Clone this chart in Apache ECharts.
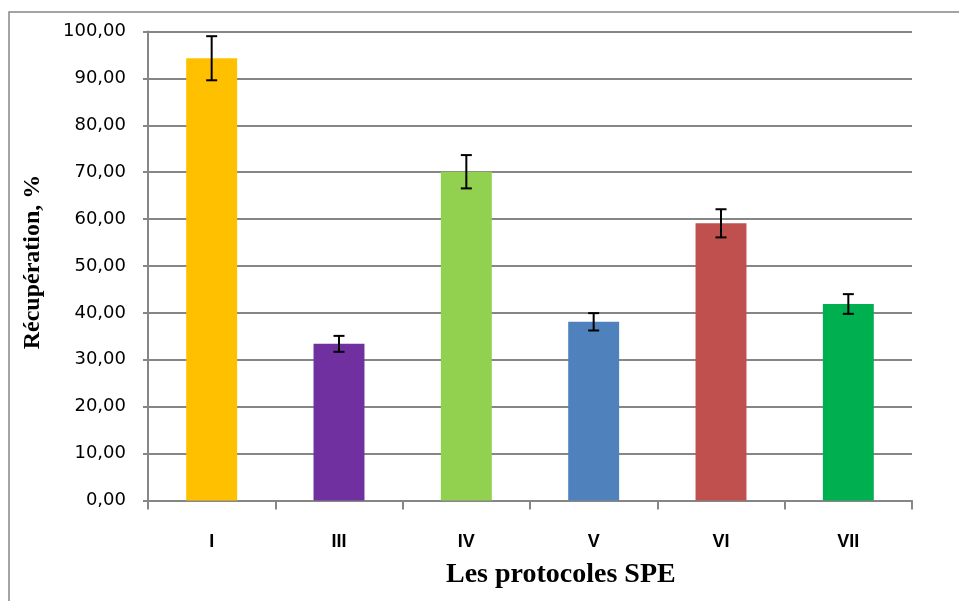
<!DOCTYPE html>
<html>
<head>
<meta charset="utf-8">
<script src="https://cdn.jsdelivr.net/npm/echarts@6/dist/echarts.min.js"></script>
<style>html,body{margin:0;padding:0;background:#fff}#c{width:959px;height:601px}</style>
</head>
<body>
<div id="c"></div>
<script>
const categories = ['I', 'III', 'IV', 'V', 'VI', 'VII'];
const values = [94.3, 33.4, 70.1, 38.1, 59.1, 41.9];
const errors = [4.7, 1.7, 3.55, 1.85, 3.0, 2.1];
const colors = ['#FFC000', '#7030A0', '#92D050', '#4F81BD', '#C0504D', '#00B050'];
const yTicks = [0, 10, 20, 30, 40, 50, 60, 70, 80, 90, 100];
const xTitle = 'Les protocoles SPE';
const yTitle = 'Récupération, %';

const chart = echarts.init(document.getElementById('c'), null, {renderer: 'canvas'});
chart.setOption({
  animation: false,
  backgroundColor: '#fff',
  graphic: [
    {
      type: 'rect', shape: {x: 9, y: 12, width: 980, height: 620},
      style: {fill: 'none', stroke: '#868686', lineWidth: 1.5}, silent: true, z: -1
    },
    {
      type: 'text', left: 446, top: 561,
      style: {text: xTitle, font: 'bold 28px "Liberation Serif"', fill: '#000'}
    },
    {
      type: 'text', x: 33, y: 262, rotation: Math.PI / 2,
      style: {text: yTitle, font: 'bold 24px "Liberation Serif"', fill: '#000', align: 'center', verticalAlign: 'middle'}
    }
  ],
  grid: {left: 148, right: 47, top: 31.5, bottom: 100.5},
  xAxis: {
    type: 'category', data: categories,
    axisLine: {lineStyle: {color: '#868686', width: 2}},
    axisTick: {show: true, length: 9, alignWithLabel: false, lineStyle: {color: '#868686', width: 2}},
    axisLabel: {fontFamily: 'Liberation Sans', fontWeight: 'bold', fontSize: 18, color: '#000', margin: 33}
  },
  yAxis: {
    type: 'value', min: yTicks[0], max: yTicks[yTicks.length - 1], interval: 10,
    axisLine: {show: true, lineStyle: {color: '#868686', width: 2}},
    axisTick: {show: true, length: 5, lineStyle: {color: '#868686', width: 2}},
    splitLine: {lineStyle: {color: '#868686', width: 2}},
    axisLabel: {
      fontFamily: 'DejaVu Sans', fontSize: 18, color: '#000', margin: 22,
      formatter: v => v.toFixed(2).replace('.', ',')
    }
  },
  series: [
    {
      type: 'bar', barWidth: '40%',
      data: values.map((v, i) => ({value: v, itemStyle: {color: colors[i]}})),
      z: 2
    },
    {
      type: 'custom',
      data: values.map((v, i) => [i, v - errors[i], v + errors[i]]),
      renderItem: function (params, api) {
        const lo = api.coord([api.value(0), api.value(1)]);
        const hi = api.coord([api.value(0), api.value(2)]);
        const hw = 5.5;
        const st = {stroke: '#000', lineWidth: 2};
        return {
          type: 'group', children: [
            {type: 'line', shape: {x1: lo[0], y1: lo[1], x2: hi[0], y2: hi[1]}, style: st},
            {type: 'line', shape: {x1: lo[0] - hw, y1: lo[1], x2: lo[0] + hw, y2: lo[1]}, style: st},
            {type: 'line', shape: {x1: hi[0] - hw, y1: hi[1], x2: hi[0] + hw, y2: hi[1]}, style: st}
          ]
        };
      },
      z: 5
    }
  ]
});
</script>
</body>
</html>
